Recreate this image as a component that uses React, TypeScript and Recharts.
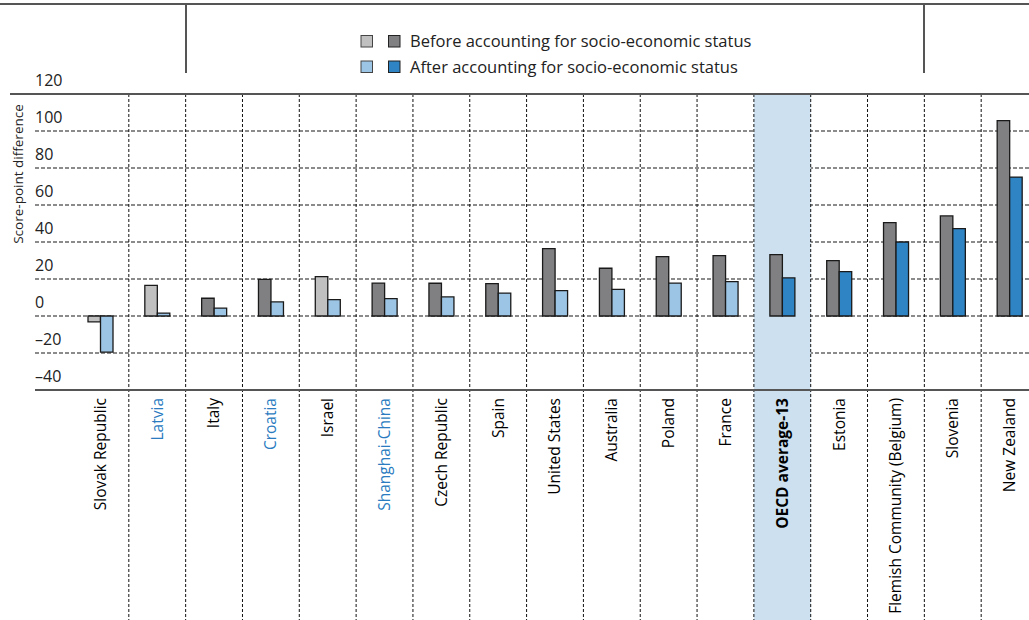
import React from 'react';
import { BarChart, Bar, XAxis, YAxis, CartesianGrid, Cell, ReferenceArea } from 'recharts';

const categories = [
  'Slovak Republic', 'Latvia', 'Italy', 'Croatia', 'Israel', 'Shanghai-China',
  'Czech Republic', 'Spain', 'United States', 'Australia', 'Poland', 'France',
  'OECD average-13', 'Estonia', 'Flemish Community (Belgium)', 'Slovenia', 'New Zealand',
];
const beforeValues = [-3.2, 16.6, 9.6, 19.8, 21.3, 17.8, 17.7, 17.5, 36.4, 25.8, 32.1, 32.6, 33.2, 29.9, 50.5, 54.1, 105.6];
const afterValues = [-19.5, 1.6, 4.3, 7.6, 8.8, 9.4, 10.3, 12.4, 13.7, 14.4, 17.8, 18.6, 20.6, 24.0, 40.0, 47.2, 75.1];
const beforeSignificant = [false, false, true, true, false, true, true, true, true, true, true, true, true, true, true, true, true];
const afterSignificant = [false, false, false, false, false, false, false, false, false, false, false, false, true, true, true, true, true];
const partnerCountries = ['Latvia', 'Croatia', 'Shanghai-China'];
const averageCategory = 'OECD average-13';
const yTicks = [-40, -20, 0, 20, 40, 60, 80, 100, 120];
const legendLabels = ['Before accounting for socio-economic status', 'After accounting for socio-economic status'];

const COLORS = {
  beforeLight: '#c0c0c0',
  beforeDark: '#808083',
  afterLight: '#9cc4e4',
  afterDark: '#2f84c4',
  partner: '#2a7bc0',
  avgBg: '#cce0ef',
};

const FONT = "'Open Sans', Lato, sans-serif";

const data = categories.map((name, i) => ({
  name,
  before: beforeValues[i],
  after: afterValues[i],
  beforeSig: beforeSignificant[i],
  afterSig: afterSignificant[i],
}));

function XTick(props: any) {
  const { x, payload } = props;
  const half = payload.offset ?? 28.4;
  const left = x - half;
  const isAvg = payload.value === averageCategory;
  const isPartner = partnerCountries.includes(payload.value);
  return (
    <g>
      {isAvg && <rect x={left} y={390} width={half * 2} height={230} fill={COLORS.avgBg} />}
      {payload.index > 0 && (
        <line x1={left} x2={left} y1={94} y2={620} stroke="#111" strokeWidth={1} strokeDasharray="3 2" />
      )}
      <text
        x={x}
        y={398}
        dy="0.35em"
        transform={`rotate(-90, ${x}, 398)`}
        textAnchor="end"
        fontFamily={FONT}
        fontSize={15.5}
        fontWeight={isAvg ? 700 : 500}
        fill={isPartner ? COLORS.partner : '#000'}
      >
        {payload.value}
      </text>
    </g>
  );
}

function YTick(props: any) {
  const { y, payload } = props;
  const v = payload.value;
  const label = v < 0 ? `\u2013${Math.abs(v)}` : `${v}`;
  return (
    <g>
      {v === 120 && <line x1={10} x2={1040} y1={y} y2={y} stroke="#555" strokeWidth={2} />}
      {v === -40 && <line x1={35} x2={1040} y1={y} y2={y} stroke="#555" strokeWidth={2} />}
      <text x={35} y={y - 8} fontFamily={FONT} fontSize={16} fill="#222">
        {label}
      </text>
    </g>
  );
}

function LegendBlock() {
  const rows = [
    { label: legendLabels[0], light: COLORS.beforeLight, dark: COLORS.beforeDark, cy: 41.5 },
    { label: legendLabels[1], light: COLORS.afterLight, dark: COLORS.afterDark, cy: 67 },
  ];
  return (
    <g>
      {rows.map((r, i) => (
        <g key={i}>
          <rect x={361} y={r.cy - 6} width={11.5} height={11.5} fill={r.light} stroke="#444" strokeWidth={1} />
          <rect x={388.5} y={r.cy - 6} width={11.5} height={11.5} fill={r.dark} stroke="#222" strokeWidth={1} />
          <text x={410} y={r.cy + 5.5} fontFamily={FONT} fontSize={16.5} fill="#222">
            {r.label}
          </text>
        </g>
      ))}
    </g>
  );
}

export default function App() {
  return (
    <div style={{ position: 'absolute', left: 0, top: 0, width: 1029, height: 620, overflow: 'hidden', background: '#fff' }}>
      <BarChart
        width={1040}
        height={620}
        data={data}
        margin={{ top: 94, right: 2, bottom: 0, left: 34 }}
        barGap={0}
        barSize={12.5}
      >
        <ReferenceArea x1={averageCategory} x2={averageCategory} y1={-40} y2={120} fill={COLORS.avgBg} fillOpacity={1} stroke="none" />
        <CartesianGrid vertical={false} stroke="#666" strokeWidth={1.5} strokeDasharray="4 2" />
        <XAxis
          dataKey="name"
          interval={0}
          padding={{ left: 37, right: 0 }}
          axisLine={false}
          tickLine={false}
          height={230}
          tick={<XTick />}
        />
        <YAxis
          width={1}
          domain={[-40, 120]}
          ticks={yTicks}
          axisLine={false}
          tickLine={false}
          tick={<YTick />}
          interval={0}
        />
        <Bar dataKey="before" isAnimationActive={false} stroke="#1a1a1a" strokeWidth={1.3}>
          {data.map((d, i) => (
            <Cell key={i} fill={d.beforeSig ? COLORS.beforeDark : COLORS.beforeLight} />
          ))}
        </Bar>
        <Bar dataKey="after" isAnimationActive={false} stroke="#1a1a1a" strokeWidth={1.3}>
          {data.map((d, i) => (
            <Cell key={i} fill={d.afterSig ? COLORS.afterDark : COLORS.afterLight} />
          ))}
        </Bar>
      </BarChart>
      <svg width={1029} height={620} style={{ position: 'absolute', left: 0, top: 0, pointerEvents: 'none' }}>
        <line x1={0} x2={1029} y1={4} y2={4} stroke="#555" strokeWidth={2} />
        <line x1={186} x2={186} y1={4} y2={73} stroke="#555" strokeWidth={2} />
        <line x1={924} x2={924} y1={4} y2={73} stroke="#555" strokeWidth={2} />
        <LegendBlock />
        <text
          x={18}
          y={174}
          transform="rotate(-90, 18, 174)"
          textAnchor="middle"
          dy="0.35em"
          fontFamily={FONT}
          fontSize={13.5}
          fill="#222"
        >
          Score-point difference
        </text>
      </svg>
    </div>
  );
}
